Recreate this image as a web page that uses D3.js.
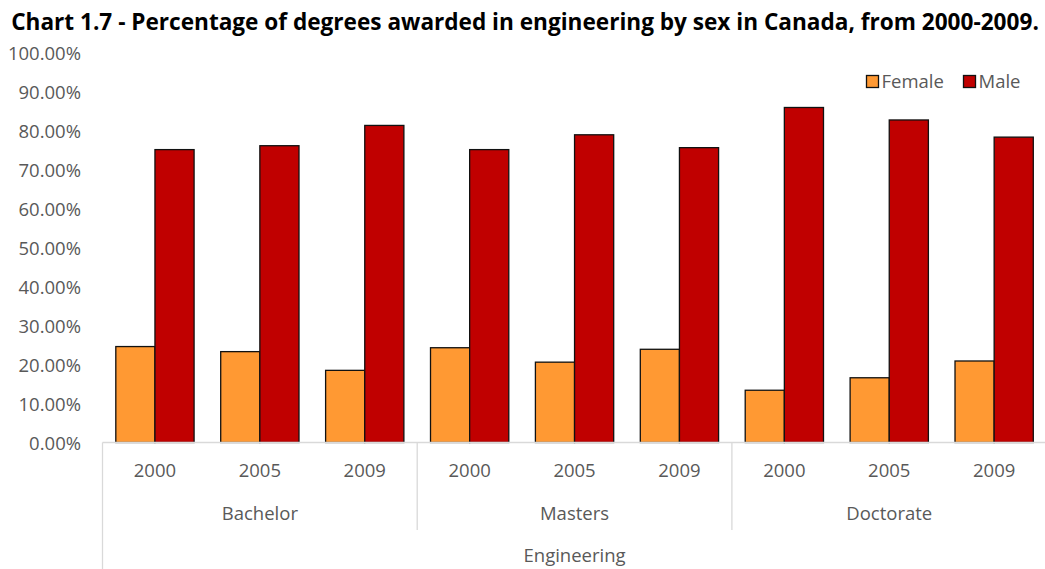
<!DOCTYPE html>
<html>
<head>
<meta charset="utf-8">
<script src="https://cdn.jsdelivr.net/npm/d3@7"></script>
<style>
  html, body { margin: 0; padding: 0; background: #fff; }
  svg { display: block; }
  text { font-family: "Open Sans", "DejaVu Sans", sans-serif; }
</style>
</head>
<body>
<svg id="chart" width="1045" height="569"></svg>
<script>
// ---- data ----
const groups = ["Bachelor", "Masters", "Doctorate"];
const years = ["2000", "2005", "2009"];
const seriesNames = ["Female", "Male"];
const femaleValues = [0.246, 0.233, 0.185, 0.243, 0.206, 0.239, 0.134, 0.166, 0.209];
const maleValues   = [0.751, 0.761, 0.813, 0.751, 0.789, 0.756, 0.859, 0.827, 0.783];
const yTicks = [0, 0.1, 0.2, 0.3, 0.4, 0.5, 0.6, 0.7, 0.8, 0.9, 1.0];
const superCategory = "Engineering";
const titleText = "Chart 1.7 - Percentage of degrees awarded in engineering by sex in Canada, from 2000-2009.";
const colors = { Female: "#FF9933", Male: "#C00000" };

// ---- layout ----
const svg = d3.select("#chart");
const left = 102.5, catW = 104.9;
const baseY = 442.5, topY = 52.5;
const textGray = "#595959", lineGray = "#D9D9D9";
const fs = 18.5;

const cats = [];
groups.forEach(g => years.forEach(y => cats.push(g + "|" + y)));
const rows = cats.map((c, i) => ({ key: c, Female: femaleValues[i], Male: maleValues[i] }));

const x0 = d3.scaleBand().domain(cats).range([left, left + catW * cats.length]).padding(0);
const x1 = d3.scaleBand().domain(seriesNames).range([0, x0.bandwidth()]).paddingInner(0).paddingOuter(0.34);
const y = d3.scaleLinear().domain([0, 1]).range([baseY, topY]);

// title
const title = svg.append("text")
  .attr("x", 525).attr("y", 30)
  .attr("text-anchor", "middle")
  .attr("font-weight", "bold")
  .attr("font-size", 20)
  .attr("fill", "#000")
  .text(titleText);
const tw = title.node().getComputedTextLength();
title.attr("font-size", 20 * 1028 / tw);

// y axis labels
const yAxis = d3.axisLeft(y).tickValues(yTicks).tickFormat(d3.format(".2%")).tickSize(0).tickPadding(0);
const yg = svg.append("g").attr("transform", "translate(81,0)").call(yAxis);
yg.select(".domain").remove();
yg.selectAll("text")
  .attr("font-family", "'Open Sans', sans-serif")
  .attr("font-size", fs)
  .attr("fill", textGray)
  .attr("dy", "0.36em");

// bars
const gBars = svg.append("g");
const cat = gBars.selectAll("g.cat").data(rows).join("g")
  .attr("class", "cat")
  .attr("transform", d => `translate(${x0(d.key)},0)`);
cat.selectAll("rect").data(d => seriesNames.map(s => ({ s, v: d[s] }))).join("rect")
  .attr("x", d => x1(d.s))
  .attr("width", x1.bandwidth())
  .attr("y", d => y(d.v))
  .attr("height", d => baseY - y(d.v))
  .attr("fill", d => colors[d.s])
  .attr("stroke", "#111")
  .attr("stroke-width", 1.3);

// category axis lines
svg.append("line").attr("x1", left).attr("x2", 1045).attr("y1", baseY).attr("y2", baseY)
  .attr("stroke", lineGray).attr("stroke-width", 1.3);
svg.append("line").attr("x1", left).attr("x2", left).attr("y1", baseY).attr("y2", 569)
  .attr("stroke", lineGray).attr("stroke-width", 1.3);
groups.forEach((g, gi) => {
  if (gi === 0) return;
  const xs = x0(g + "|" + years[0]);
  svg.append("line").attr("x1", xs).attr("x2", xs).attr("y1", baseY).attr("y2", 530)
    .attr("stroke", lineGray).attr("stroke-width", 1.3);
});

// year labels
svg.append("g").selectAll("text").data(cats).join("text")
  .attr("x", d => x0(d) + x0.bandwidth() / 2)
  .attr("y", 477)
  .attr("text-anchor", "middle")
  .attr("font-size", fs)
  .attr("fill", textGray)
  .text(d => d.split("|")[1]);

// group labels
svg.append("g").selectAll("text").data(groups).join("text")
  .attr("x", g => (x0(g + "|" + years[0]) + x0(g + "|" + years[years.length - 1]) + x0.bandwidth()) / 2)
  .attr("y", 520)
  .attr("text-anchor", "middle")
  .attr("font-size", fs)
  .attr("fill", textGray)
  .text(g => g);

// super category
svg.append("text")
  .attr("x", (x0.range()[0] + x0.range()[1]) / 2)
  .attr("y", 562)
  .attr("text-anchor", "middle")
  .attr("font-size", fs)
  .attr("fill", textGray)
  .text(superCategory);

// legend
const legendPos = { Female: 866.5, Male: 963.5 };
const lg = svg.append("g");
seriesNames.forEach(s => {
  lg.append("rect").attr("x", legendPos[s]).attr("y", 75.5).attr("width", 12).attr("height", 12)
    .attr("fill", colors[s]).attr("stroke", "#111").attr("stroke-width", 1.3);
  lg.append("text").attr("x", legendPos[s] + 15).attr("y", 87.5)
    .attr("font-size", fs).attr("fill", textGray).text(s);
});
</script>
</body>
</html>
